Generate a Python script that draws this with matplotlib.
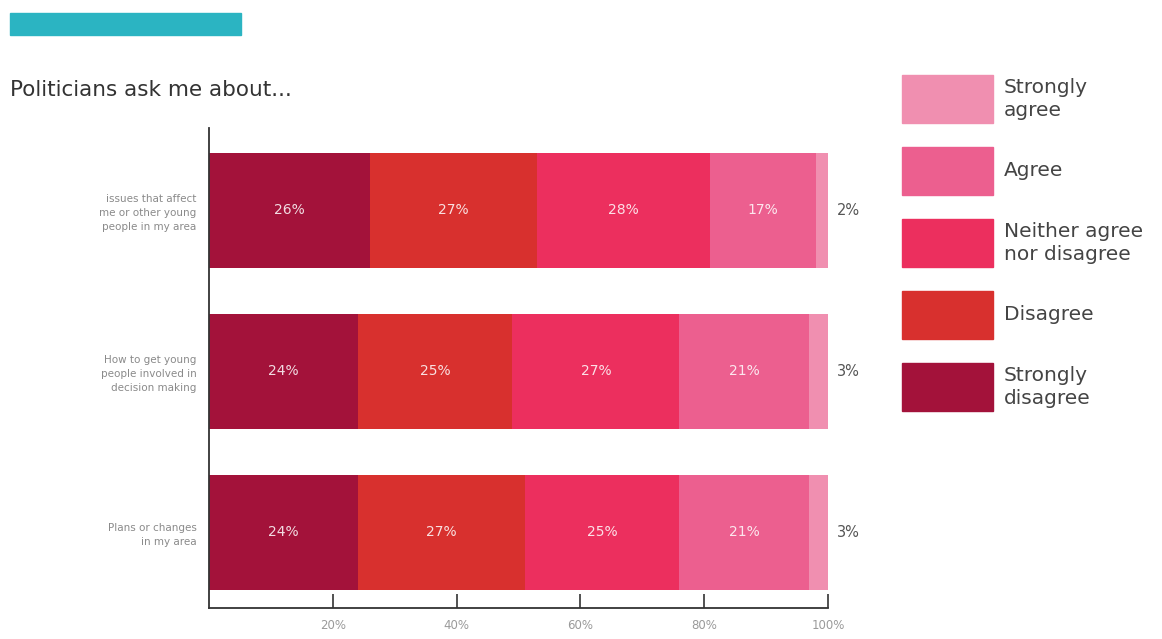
import matplotlib.pyplot as plt
from matplotlib.patches import Rectangle

plt.rcParams['font.family'] = ['DejaVu Sans']

# survey answers, one list per response level (percent)
questions = ['issues that affect\nme or other young\npeople in my area',
             'How to get young\npeople involved in\ndecision making',
             'Plans or changes\nin my area']
strongly_disagree = [26, 24, 24]
disagree = [27, 25, 27]
neither = [28, 27, 25]
agree = [17, 21, 21]
strongly_agree = [2, 3, 3]

legend_labels = ['Strongly\nagree', 'Agree', 'Neither agree\nnor disagree',
                 'Disagree', 'Strongly\ndisagree']
colors = ['#a3123a', '#d8302e', '#ec2f5e', '#ec5f8f', '#f08fb0']
xticks = [20, 40, 60, 80, 100]

W, H = 1162, 639
fig = plt.figure(figsize=(W / 100, H / 100), dpi=100)


def fx(px):
    return px / W


def fy(py):
    return 1 - py / H


# axes box in pixel terms: x 209..828, y 128..608
ax = fig.add_axes([fx(209), fy(608), fx(828) - fx(209), fy(128) - fy(608)])

series = [strongly_disagree, disagree, neither, agree, strongly_agree]
ypos = list(range(len(questions)))
left = [0] * len(questions)
for i, vals in enumerate(series):
    ax.barh(ypos, vals, left=left, height=0.715, color=colors[i],
            edgecolor='none')
    for j, v in enumerate(vals):
        if i < 4:
            ax.text(left[j] + v / 2, ypos[j], f'{v}%', ha='center',
                    va='center', color='white', alpha=0.85, fontsize=10)
    left = [l + v for l, v in zip(left, vals)]

# smallest share written just outside each bar
for j, v in enumerate(strongly_agree):
    ax.text(101.5, ypos[j], f'{v}%', ha='left', va='center',
            color='#555555', fontsize=10.5)

ax.set_xlim(0, 100)
ax.set_ylim(2.472, -0.512)
ax.set_yticks(ypos)
ax.set_yticklabels(questions, fontsize=7.5, color='#8a8a8a',
                   linespacing=1.5)
ax.tick_params(axis='y', length=0, pad=9)
ax.set_xticks(xticks)
ax.set_xticklabels([f'{t}%' for t in xticks], fontsize=8.5, color='#9a9a9a')
ax.tick_params(axis='x', direction='in', length=10, width=1.2,
               color='#333333', pad=8)

for side in ['top', 'right']:
    ax.spines[side].set_visible(False)
for side in ['left', 'bottom']:
    ax.spines[side].set_color('#333333')
    ax.spines[side].set_linewidth(1.3)

# teal header strip and the subtitle
fig.add_artist(Rectangle((fx(10), fy(35)), fx(241) - fx(10), fy(13) - fy(35),
                         transform=fig.transFigure, color='#2bb4c2'))
fig.text(fx(10), fy(90), 'Politicians ask me about...', fontsize=15.5,
         color='#333333', va='center', ha='left')

# legend drawn as boxes with labels
for k, lab in enumerate(legend_labels):
    top = 75 + 72 * k
    col = colors[::-1][k]
    fig.add_artist(Rectangle((fx(902), fy(top + 48)), fx(993) - fx(902),
                             fy(top) - fy(top + 48),
                             transform=fig.transFigure, color=col))
    fig.text(fx(1004), fy(top + 24), lab, fontsize=14.5, color='#444444',
             va='center', ha='left', linespacing=1.25)

fig.savefig('out.png', dpi=100)
